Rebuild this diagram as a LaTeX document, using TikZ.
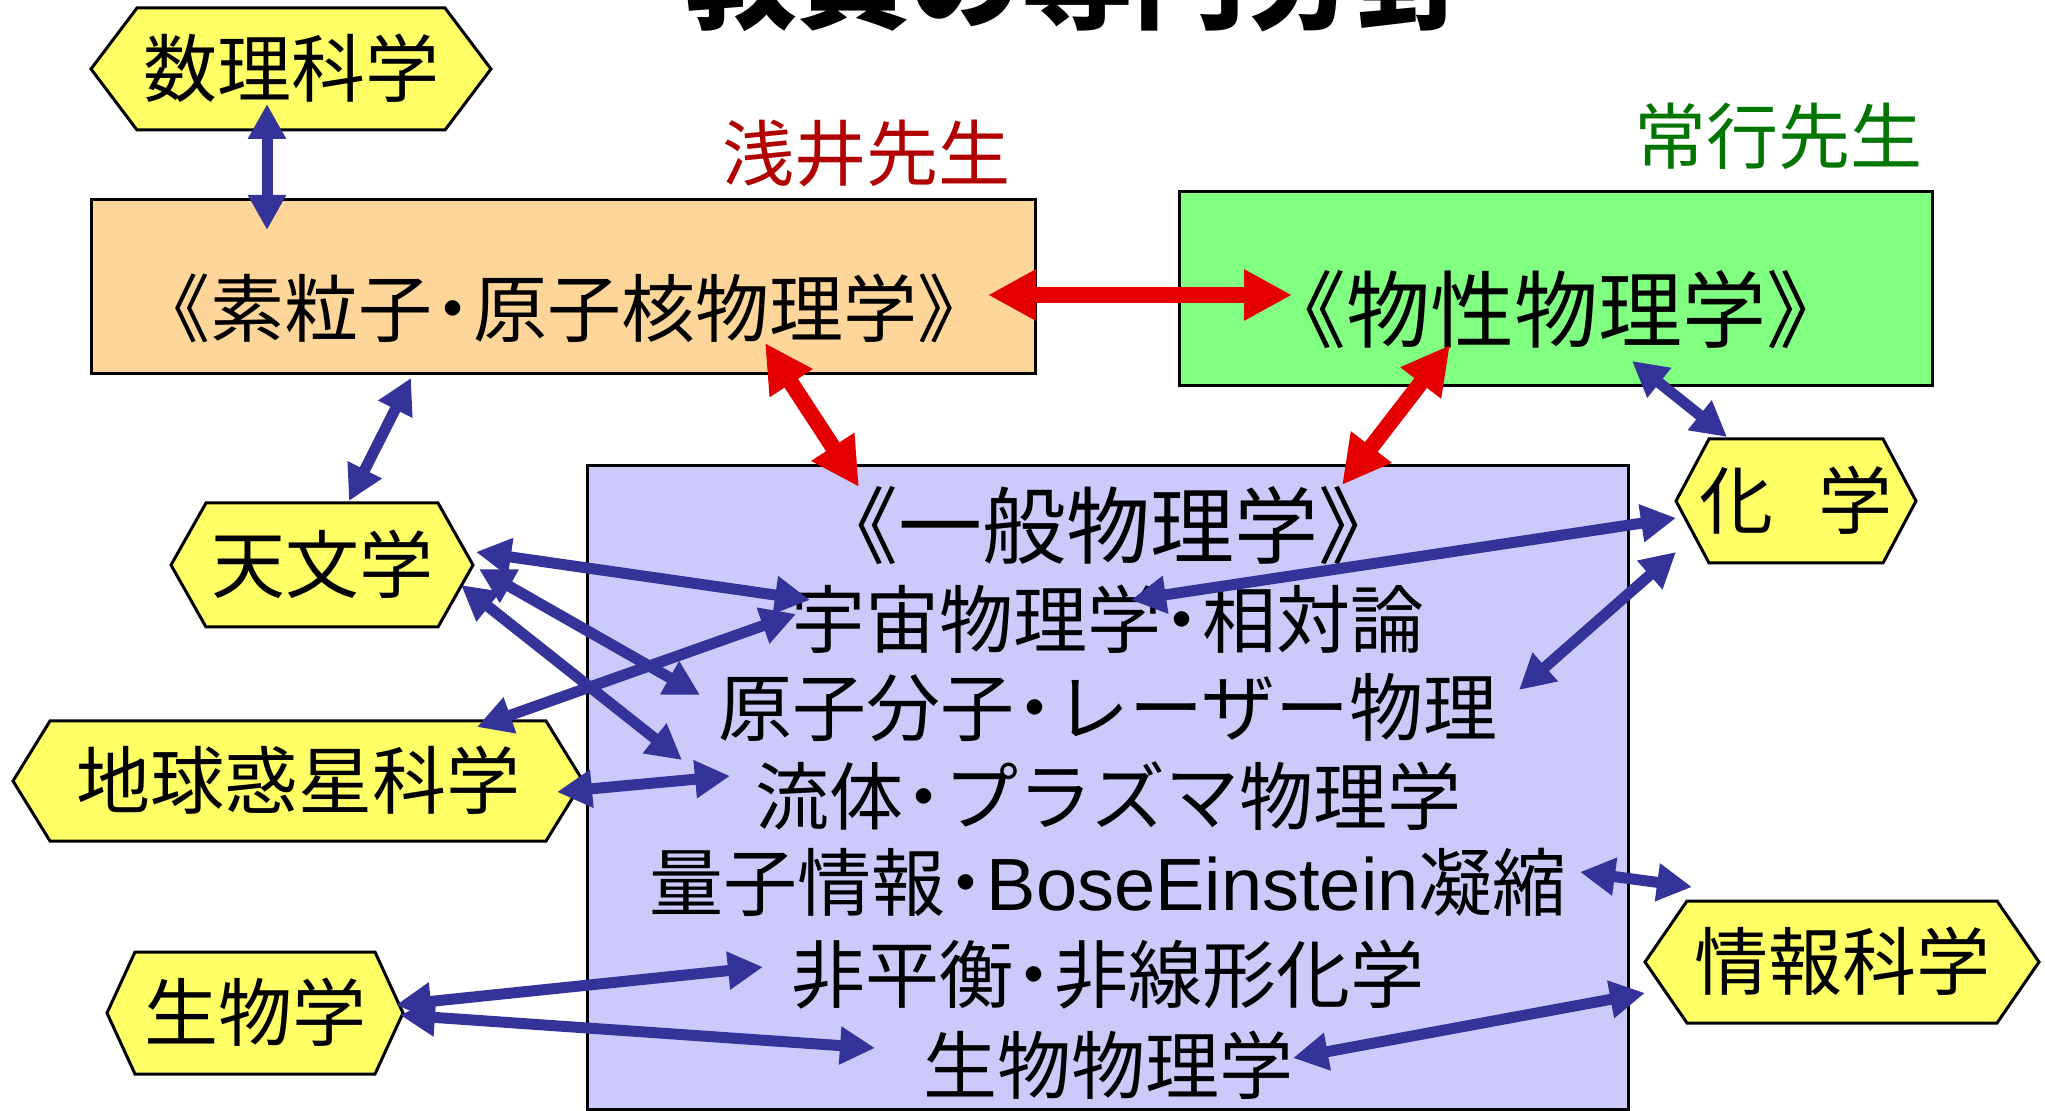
\documentclass[tikz,border=0pt]{standalone}
\usepackage{fontspec}
\setmainfont{Noto Sans CJK JP}
\newfontfamily\latinf{Liberation Sans}
\usetikzlibrary{arrows.meta,calc}
\definecolor{hexyellow}{RGB}{255,255,102}
\definecolor{boxorange}{RGB}{255,214,153}
\definecolor{boxgreen}{RGB}{128,255,128}
\definecolor{boxpurple}{RGB}{204,202,250}
\definecolor{arrowblue}{RGB}{51,51,153}
\definecolor{arrowred}{RGB}{228,0,0}
\definecolor{namered}{RGB}{176,0,0}
\definecolor{namegreen}{RGB}{0,118,0}
\newcommand\nkg{\kern0.03em{\bfseries ･}\kern0.03em}
\tikzset{
  hexshape/.style={fill=hexyellow, draw=black, line width=1.5pt, line join=miter},
  hextext/.style={inner sep=0pt, font=\fontsize{37pt}{40pt}\selectfont, text height=30.5pt, text depth=2.8pt},
  boxshape/.style={draw=black, line width=1.5pt, inner sep=0pt},
  normtext/.style={inner sep=0pt, font=\fontsize{37pt}{40pt}\selectfont, text height=30.5pt, text depth=2.8pt},
  bigtext/.style={inner sep=0pt, font=\fontsize{42pt}{45pt}\selectfont, text height=34.6pt, text depth=3.2pt},
  nametext/.style={inner sep=0pt, font=\fontsize{36pt}{40pt}\selectfont, text height=29.7pt, text depth=2.7pt},
  titletext/.style={inner sep=0pt, font=\fontsize{56pt}{60pt}\selectfont\bfseries, text height=46pt, text depth=4pt},
  bluearrow/.style={draw=arrowblue, line width=5.5pt, arrows={Triangle[length=17.5pt,width=18pt]-Triangle[length=17.5pt,width=18pt]}},
  redarrow/.style={draw=arrowred, line width=8pt, arrows={Triangle[length=24pt,width=24pt]-Triangle[length=24pt,width=24pt]}}
}
\newcommand\hexnode[7]{%
  \path[hexshape] (#2-#4,#3) -- (#2-#4+#6,#3-#5) -- (#2+#4-#6,#3-#5) -- (#2+#4,#3) -- (#2+#4-#6,#3+#5) -- (#2-#4+#6,#3+#5) -- cycle;
  \node[hextext, minimum width=#4pt, minimum height=#5pt] (#1) at (#2,#3) {#7};
}
\begin{document}
\begin{tikzpicture}[x=0.5pt, y=-0.5pt]
\useasboundingbox (0,0) rectangle (2045,1111);
\fill[white] (0,0) rectangle (2045,1111);

% boxes
\node[boxshape, fill=boxorange, minimum width=472pt, minimum height=87pt] (orange) at (563,287) {};
\node[boxshape, fill=boxgreen, minimum width=376.5pt, minimum height=97pt] (green) at (1556,288.5) {};
\node[boxshape, fill=boxpurple, minimum width=520.5pt, minimum height=321.5pt] (purple) at (1107.5,787.5) {};

\node[normtext] (orangetxt) at (564,309) {《素粒子\nkg 原子核物理学》};
\node[bigtext] (greentxt) at (1556,310) {《物性物理学》};

\node[bigtext] (l1) at (1108,526) {《一般物理学》};
\node[normtext] (l2) at (1108,620) {宇宙物理学\nkg 相対論};
\node[normtext] (l3) at (1108,708) {原子分子\nkg レーザー物理};
\node[normtext] (l4) at (1108,797) {流体\nkg プラズマ物理学};
\node[normtext] (l5) at (1108,883) {量子情報\nkg{\latinf BoseEinstein}凝縮};
\node[normtext] (l6) at (1108,975) {非平衡\nkg 非線形化学};
\node[normtext] (l7) at (1108,1066) {生物物理学};

% hexagons
\hexnode{suri}{291}{69}{200}{61}{46}{数理科学}
\hexnode{kagaku}{1796}{501}{120}{62}{33}{化\kern-0.2em　\kern-0.2em学}
\hexnode{tenmon}{322}{565}{151}{62}{35}{天文学}
\hexnode{chikyu}{298}{781}{285}{60}{37}{地球惑星科学}
\hexnode{joho}{1842}{962}{197}{61}{42}{情報科学}
\hexnode{seibutsu}{255}{1013}{148}{61}{28}{生物学}

% names and title
\node[nametext, text=namered] (asai) at (866,154) {浅井先生};
\node[nametext, text=namegreen] (tsuneyuki) at (1778,137) {常行先生};
\node[titletext] (title) at (1077,-21) {教員の専門分野};

% arrows
\draw[bluearrow] ($(suri)+(-24,35)$) -- ($(orange)+(-296,-57)$);
\draw[redarrow] ($(orange)+(425,8)$) -- ($(green)+(-264,6.5)$);
\draw[redarrow] ($(orange)+(202,56)$) -- ($(l1)+(-249,-39)$);
\draw[redarrow] ($(green)+(-106,56.5)$) -- ($(l1)+(234,-41)$);
\draw[bluearrow] ($(green)+(76,72.5)$) -- ($(kagaku)+(-69,-64)$);
\draw[bluearrow] ($(orange)+(-152,91)$) -- ($(tenmon)+(27,-64)$);
\draw[bluearrow] ($(tenmon)+(154,-13)$) -- ($(l2)+(-298,-20)$);
\draw[bluearrow] ($(tenmon)+(157,4)$) -- ($(l3)+(-408,-13)$);
\draw[bluearrow] ($(tenmon)+(139,20)$) -- ($(l4)+(-426,-37)$);
\draw[bluearrow] ($(chikyu)+(179,-54)$) -- ($(l2)+(-312,-6)$);
\draw[bluearrow] ($(chikyu)+(259,11)$) -- ($(l4)+(-378,-21)$);
\draw[bluearrow] ($(kagaku)+(-120,17)$) -- ($(l2)+(23,-20)$);
\draw[bluearrow] ($(kagaku)+(-120,51)$) -- ($(l3)+(411,-18)$);
\draw[bluearrow] ($(l5)+(472,-11)$) -- ($(joho)+(-150,-75)$);
\draw[bluearrow] ($(seibutsu)+(141,-8)$) -- ($(l6)+(-345,-8)$);
\draw[bluearrow] ($(seibutsu)+(145,2)$) -- ($(l7)+(-233,-18)$);
\draw[bluearrow] ($(l7)+(185,-8)$) -- ($(joho)+(-197,31)$);
\end{tikzpicture}
\end{document}
